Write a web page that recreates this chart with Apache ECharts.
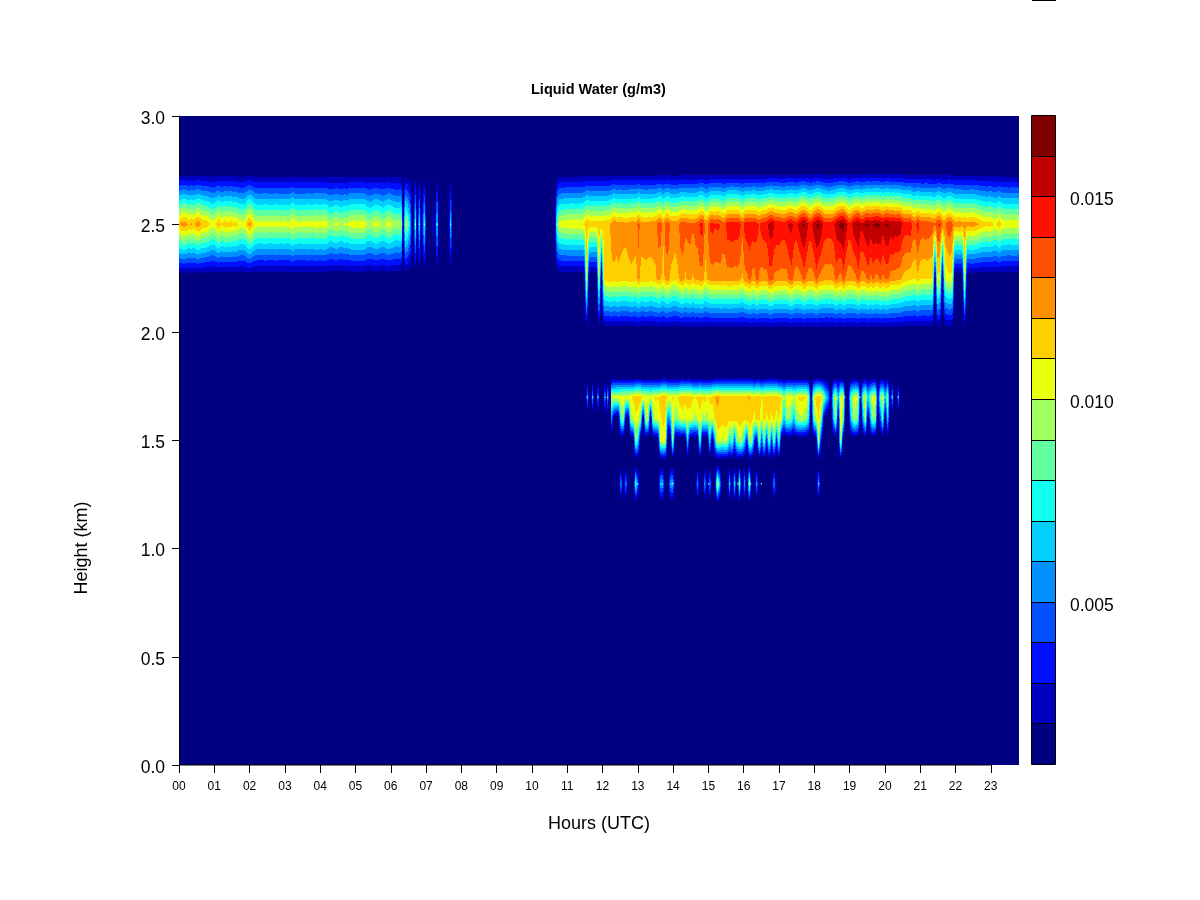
<!DOCTYPE html>
<html>
<head>
<meta charset="utf-8">
<style>html,body{margin:0;padding:0;background:#fff}#chart{width:1200px;height:900px}</style>
<script src="https://cdn.jsdelivr.net/npm/echarts@6/dist/echarts.min.js"></script>
</head>
<body>
<div id="chart"></div>
<script>
// Contour levels (g/m3) and the colour of the band above each level
const contourLevels = [0.001,0.002,0.003,0.004,0.005,0.006,0.007,0.008,0.009,0.010,0.011,0.012,0.013,0.014,0.015,0.016,0.017];
const bandColors = ['#000080','#0000C0','#0010FF','#0050FF','#0090FF','#00CFFF','#10FFEF','#60FF9F','#A0FF60','#E8FF10','#FFD000','#FF9000','#FF5000','#FF1000','#C00000','#800000'];
const hourTicks = [0,1,2,3,4,5,6,7,8,9,10,11,12,13,14,15,16,17,18,19,20,21,22,23];
const hourLabels = ['00','01','02','03','04','05','06','07','08','09','10','11','12','13','14','15','16','17','18','19','20','21','22','23'];
const legendTicks = [0.005,0.010,0.015];

const SAMPLE_STEP = 0.07;
const VALUE_UNIT = 0.0001;
// Faint background reading around each layer (stays inside the lowest navy band)
const UPPER_FLOOR = 8;
const LOWER_FLOOR = 5;

// Layer near 2.5 km, 00-06 UTC (samples start at 0.00 h)
const early250 = [
118,124,126,124,118,123,118,125,127,120,
118,117,114,108,107,113,121,112,114,118,
113,117,112,115,109,107,106,110,122,124,
112,106,105,104,105,106,105,104,105,106,
105,104,105,105,104,105,112,105,105,104,
105,105,106,105,104,106,107,105,106,107,
104,97,99,102,104,99,98,103,100,105,
106,107,106,107,106,107,100,97,98,104,
105,102,98,97,103,106,102,98,96,97,
98];
// Broken-up end of that layer
const tailHours = [6.30,6.35,6.41,6.48,6.55,6.62,6.70,6.75,6.81,6.87,6.95,7.02,7.12,7.19,7.25,7.31,7.37,7.64,7.70,7.76];
const tail250 =   [98,12,100,90,68,8,78,10,72,10,80,5,0,30,5,78,0,0,72,0];

// Layer near 2.5 km, 10.64-23.80 UTC
const late250 = [
0,88,104,106,107,108,108,109,108,108,
109,108,112,121,118,115,117,116,116,117,
117,118,118,122,130,124,125,125,124,123,
125,126,126,125,134,126,125,124,125,126,
126,127,134,136,122,135,136,128,127,127,
128,134,136,134,133,133,132,133,135,143,
144,128,130,142,143,141,142,141,135,136,
146,146,147,146,146,144,133,144,146,145,
146,147,142,140,145,146,148,154,156,150,
148,148,146,145,149,152,153,148,146,153,
160,162,157,146,147,156,161,163,156,147,
146,145,146,148,155,160,163,164,156,146,
147,155,160,161,152,155,161,162,158,161,
162,163,159,155,161,162,157,160,156,158,
156,148,146,146,148,138,137,145,138,136,
138,137,136,134,132,140,142,130,128,136,
138,132,126,125,128,124,125,124,125,126,
125,122,120,116,115,113,116,114,109,110,
119,109,108,108,107,108,108,108,107];
const late225 = [
0,0,0,0,0,0,0,0,0,0,
0,0,0,110,0,0,0,0,108,0,
112,116,117,118,116,117,118,116,115,116,
117,118,117,116,125,116,117,118,117,116,
117,118,125,121,114,125,126,118,116,114,
118,125,126,118,124,125,118,125,124,126,
126,115,122,125,126,125,125,126,126,125,
126,126,126,125,126,124,118,127,128,135,
127,126,136,128,126,127,126,136,135,128,
127,127,126,127,126,133,136,127,125,126,
128,136,128,126,126,127,136,128,126,125,
124,125,124,126,135,128,126,136,127,125,
125,126,128,136,127,126,128,134,127,133,
127,128,134,127,132,132,126,125,125,124,
123,118,116,115,114,112,110,118,112,111,
110,112,111,110,0,108,105,0,100,105,
108,106,0,0,0,0,110,0,0,0,
0,0,0,0,0,0,0,0,0,0,
0,0,0,0,0,0,0,0,0];

// Isolated readings at 1.7 km around the edges of the lower layer
const edgeHours = [11.52,11.57,11.62,11.67,11.72,11.77,11.82,11.87,11.92,12.02,12.07,12.11,12.15,12.19, 20.14,20.21,20.27,20.33,20.38,20.43];
const edge170 =   [0,60,0,0,60,0,0,62,0,0,68,0,72,0, 0,62,0,0,58,0];

// Lower layer, 12.24-20.15 UTC
const lower170 = [
100,104,105,106,107,108,107,108,109,112,
116,117,115,107,109,108,104,108,112,110,
114,121,119,110,108,112,108,110,116,117,
114,116,118,112,110,112,116,112,114,110,
112,114,119,124,119,117,117,118,116,117,
119,118,117,118,117,119,121,117,112,117,
118,110,115,118,118,118,117,118,112,112,
90,108,109,108,100,105,112,113,112,110,
95,15,100,116,118,114,95,70,55,15,
80,105,60,110,100,15,15,85,100,105,
100,20,90,106,65,90,105,107,20,90,
104,60,100,0];
const lower160 = [
60,20,0,0,85,90,15,0,95,100,
108,104,90,0,95,100,0,95,100,105,
108,112,110,50,60,108,85,95,100,105,
100,106,102,100,95,100,108,95,98,95,
106,100,112,116,116,115,116,116,114,115,
116,113,116,114,112,117,117,112,108,115,
112,100,114,106,114,106,114,104,112,100,
60,90,90,85,60,92,96,98,96,92,
70,0,80,100,110,95,30,0,0,0,
60,95,0,115,90,0,0,60,90,95,
80,0,60,95,0,60,95,85,0,40,
85,0,70,0];
const lower150 = [
0,0,0,0,0,0,0,0,0,0,
95,70,0,0,0,0,0,0,0,0,
100,108,105,0,0,100,0,0,0,0,
0,70,0,0,0,0,90,0,0,0,
75,0,60,104,102,98,100,100,70,88,
45,90,98,96,70,30,98,95,40,20,
96,40,92,30,95,35,92,30,90,0,
0,0,0,0,0,0,0,0,0,0,
0,0,0,0,105,30,0,0,0,0,
0,0,0,108,0,0,0,0,0,0,
0,0,0,0,0,0,0,0,0,0,
0,0,0,0];
const lower130 = [
0,0,0,0,62,0,60,0,0,0,
85,40,0,0,0,0,0,0,0,0,
62,62,0,0,60,65,0,0,0,0,
0,0,0,0,0,55,0,0,62,0,
60,0,0,108,65,0,0,0,65,0,
70,0,88,0,60,0,100,0,0,60,
0,0,0,0,0,0,62,0,0,0,
0,0,0,0,0,0,0,0,0,0,
0,0,0,0,60,0,0,0,0,0,
0,0,0,0,0,0,0,0,0,0,
0,0,0,0,0,0,0,0,0,0,
0,0,0,0];

// Tiny white specks on the thin spikes
const speckHours =   [6.41,6.70,6.81,6.95,7.31,7.70,10.71,11.57,11.72,11.87,12.07,12.15,13.0,14.0,15.0,15.83,16.2,16.5,18.13,20.21,20.38,18.05,18.86,19.3];
const speckHeights = [2.5,2.5,2.5,2.5,2.5,2.5,2.5,1.7,1.7,1.7,1.7,1.7,1.3,1.3,1.3,1.3,1.3,1.3,1.3,1.7,1.7,1.7,1.7,1.7];

const hoursFrom = (start, count) => Array.from({length: count}, (_, i) => +(start + i * SAMPLE_STEP).toFixed(2));

const layers = [
  {floor: UPPER_FLOOR, hours: hoursFrom(0, early250.length), heights: [2.25, 2.5, 2.75], rows: [null, early250, null]},
  {floor: UPPER_FLOOR, hours: tailHours, heights: [2.25, 2.5, 2.75], rows: [null, tail250, null]},
  {floor: UPPER_FLOOR, hours: hoursFrom(10.64, late250.length), heights: [2.0, 2.25, 2.5, 2.75], rows: [null, late225, late250, null]},
  {floor: LOWER_FLOOR, hours: edgeHours, heights: [1.6, 1.7, 1.8], rows: [null, edge170, null]},
  {floor: LOWER_FLOOR, hours: hoursFrom(12.24, lower170.length), heights: [1.2, 1.3, 1.4, 1.5, 1.6, 1.7, 1.8], rows: [null, lower130, null, lower150, lower160, lower170, null]}
];

// One item per pair of neighbouring sample times: [t0, t1, profile at t0, profile at t1]
function layerItems(layer) {
  const items = [];
  const read = (r, i) => Math.max(layer.floor, r ? (r[i] || 0) : 0) * VALUE_UNIT;
  for (let i = 0; i + 1 < layer.hours.length; i++) {
    items.push({
      value: [layer.hours[i], layer.hours[i + 1]],
      a: layer.rows.map(r => read(r, i)),
      b: layer.rows.map(r => read(r, i + 1))
    });
  }
  return items;
}

function contourSeries(layer) {
  const items = layerItems(layer);
  const heights = layer.heights;
  return {
    type: 'custom',
    xAxisIndex: 0, yAxisIndex: 0,
    coordinateSystem: 'cartesian2d',
    silent: true,
    animation: false,
    progressive: 0,
    encode: {x: [0, 1]},
    data: items.map(d => d.value),
    renderItem(params, api) {
      const item = items[params.dataIndex];
      const x0 = api.coord([item.value[0], 0])[0];
      const x1 = api.coord([item.value[1], 0])[0];
      const ys = heights.map(h => api.coord([0, h])[1]);
      const children = [];
      for (let X = Math.round(x0); X < Math.round(x1); X++) {
        const f = Math.min(1, Math.max(0, (X + 0.5 - x0) / (x1 - x0)));
        const prof = item.a.map((v, j) => v + (item.b[j] - v) * f);
        for (let j = 0; j + 1 < prof.length; j++) {
          const v0 = prof[j], v1 = prof[j + 1];
          if (v0 < contourLevels[1] && v1 < contourLevels[1]) continue;
          for (let b = 1; b < bandColors.length; b++) {
            const lo = contourLevels[b];
            const hi = b === bandColors.length - 1 ? Infinity : contourLevels[b + 1];
            let s0, s1;
            if (v0 === v1) {
              if (v0 < lo || v0 >= hi) continue;
              s0 = 0; s1 = 1;
            } else {
              const sLo = (lo - v0) / (v1 - v0);
              const sHi = hi === Infinity ? (v1 > v0 ? 1 : 0) : (hi - v0) / (v1 - v0);
              s0 = Math.max(0, Math.min(sLo, sHi));
              s1 = Math.min(1, Math.max(sLo, sHi));
              if (s1 <= s0) continue;
            }
            const yA = Math.round(ys[j] + (ys[j + 1] - ys[j]) * s0);
            const yB = Math.round(ys[j] + (ys[j + 1] - ys[j]) * s1);
            if (yA === yB) continue;
            children.push({
              type: 'rect',
              shape: {x: X, y: Math.min(yA, yB), width: 1, height: Math.abs(yA - yB)},
              style: {fill: bandColors[b]}
            });
          }
        }
      }
      return {type: 'group', silent: true, children};
    }
  };
}

const legendBands = bandColors.map((c, i) => [contourLevels[i], contourLevels[i + 1]]);

const TEXT_FONT = '"Liberation Sans", Arial, sans-serif';
const chart = echarts.init(document.getElementById('chart'), null, {renderer: 'canvas'});
chart.setOption({
  animation: false,
  backgroundColor: '#ffffff',
  title: {
    text: 'Liquid Water (g/m3)',
    left: 526, top: 77,
    textStyle: {fontFamily: TEXT_FONT, fontSize: 14.5, fontWeight: 'bold', color: '#000', lineHeight: 16}
  },
  graphic: [
    {type: 'text', x: 82, y: 548, rotation: Math.PI / 2,
     style: {text: 'Height (km)', fontFamily: TEXT_FONT, fontSize: 18, fill: '#000', textAlign: 'center', textVerticalAlign: 'middle'}},
    {type: 'rect', shape: {x: 1032, y: 0, width: 24, height: 1}, style: {fill: '#000'}}
  ],
  grid: [
    {left: 179, top: 116, width: 840, height: 649, show: true, backgroundColor: bandColors[0], borderWidth: 0},
    {left: 1032, top: 116, width: 24, height: 649, show: false}
  ],
  xAxis: [
    {
      type: 'value', gridIndex: 0, min: 0, max: 23.8,
      name: 'Hours (UTC)', nameLocation: 'middle', nameGap: 50,
      nameTextStyle: {fontFamily: TEXT_FONT, fontSize: 18, color: '#000'},
      axisLine: {show: false},
      axisTick: {show: true, length: 8, lineStyle: {color: '#000'}, customValues: hourTicks},
      axisLabel: {
        fontFamily: TEXT_FONT, fontSize: 12, color: '#000', margin: 16,
        customValues: hourTicks,
        formatter: v => hourLabels[Math.round(v)] ?? ''
      },
      splitLine: {show: false}
    },
    {type: 'value', gridIndex: 1, min: 0, max: 1, show: false}
  ],
  yAxis: [
    {
      type: 'value', gridIndex: 0, min: 0, max: 3, interval: 0.5,
      axisLine: {show: true, lineStyle: {color: '#000'}},
      axisTick: {show: true, length: 7, lineStyle: {color: '#000'}},
      axisLabel: {fontFamily: TEXT_FONT, fontSize: 17.5, color: '#000', margin: 14, verticalAlign: 'top', lineHeight: 6, formatter: v => v.toFixed(1)},
      splitLine: {show: false}
    },
    {
      type: 'value', gridIndex: 1, position: 'right', min: contourLevels[0], max: contourLevels[16],
      axisLine: {show: false},
      axisTick: {show: true, length: 7, lineStyle: {color: '#000'}, customValues: legendTicks},
      axisLabel: {fontFamily: TEXT_FONT, fontSize: 17.5, color: '#000', margin: 14, verticalAlign: 'top', lineHeight: 6, customValues: legendTicks, formatter: v => v.toFixed(3)},
      splitLine: {show: false}
    }
  ],
  series: [
    ...layers.map(contourSeries),
    {
      type: 'scatter', xAxisIndex: 0, yAxisIndex: 0, silent: true, animation: false,
      symbol: 'circle', symbolSize: 1.4, itemStyle: {color: '#ffffff', opacity: 0.8},
      data: speckHours.map((h, i) => [h, speckHeights[i]])
    },
    {
      type: 'line', xAxisIndex: 0, yAxisIndex: 0, silent: true, animation: false, showSymbol: false,
      clip: false, lineStyle: {color: '#000', width: 1},
      data: [[hourTicks[0], 0], [hourTicks[23], 0]]
    },
    {
      type: 'custom', xAxisIndex: 1, yAxisIndex: 1, silent: true, animation: false,
      encode: {y: [0, 1]},
      data: legendBands,
      renderItem(params, api) {
        const p0 = api.coord([0, api.value(0)]);
        const p1 = api.coord([1, api.value(1)]);
        return {
          type: 'rect',
          shape: {x: Math.round(p0[0]) - 0.5, y: Math.round(p1[1]) - 0.5, width: Math.round(p1[0] - p0[0]), height: Math.round(p0[1]) - Math.round(p1[1])},
          style: {fill: bandColors[params.dataIndex], stroke: '#000', lineWidth: 1}
        };
      }
    }
  ]
});
</script>
</body>
</html>
